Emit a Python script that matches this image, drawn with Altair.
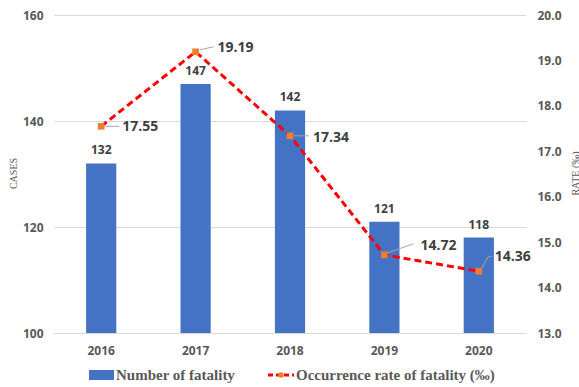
import altair as alt
import pandas as pd

years = ["2016", "2017", "2018", "2019", "2020"]
cases = [132, 147, 142, 121, 118]
rates = [17.55, 19.19, 17.34, 14.72, 14.36]

df = pd.DataFrame({"year": years, "cases": cases, "rate": rates})

W, H = 472, 318
LBL = "Open Sans"
SERIF = "Liberation Serif"
GRAY = "#595959"

x_enc = alt.X("year:N", scale=alt.Scale(paddingInner=0.68),
              axis=alt.Axis(title=None, labelFont=LBL, labelFontWeight="bold",
                            labelFontSize=12, labelColor=GRAY, labelAngle=0,
                            labelPadding=12, ticks=False, domainColor="#d9d9d9",
                            grid=False))

y_cases = alt.Y("cases:Q", scale=alt.Scale(domain=[100, 160], nice=False, zero=False),
                axis=alt.Axis(title="CASES", values=[100, 120, 140, 160], labelFont=LBL,
                              labelFontWeight="bold", labelFontSize=12, labelColor=GRAY,
                              labelPadding=11, ticks=False, domain=False,
                              gridColor="#d9d9d9", titleFont=SERIF, titleFontSize=10,
                              titleFontWeight="normal", titleColor=GRAY, titleAngle=270,
                              titleX=-41, titleY=158, titleAlign="center",
                              titleBaseline="middle"))

y_rate = alt.Y("rate:Q", scale=alt.Scale(domain=[13, 20], nice=False, zero=False),
               axis=alt.Axis(title="RATE (‰)", orient="right",
                             values=[13, 14, 15, 16, 17, 18, 19, 20], format=".1f",
                             labelFont=LBL, labelFontWeight="bold", labelFontSize=12,
                             labelColor=GRAY, labelPadding=11, ticks=False, domain=False,
                             grid=False, titleFont=SERIF, titleFontSize=10,
                             titleFontWeight="normal", titleColor=GRAY, titleAngle=270,
                             titleX=49, titleY=158, titleAlign="center",
                             titleBaseline="middle"))

base = alt.Chart(df)

bars = base.mark_bar(color="#4472c4", clip=True).encode(
    x=x_enc, y=y_cases, y2=alt.datum(100))
bar_text = base.mark_text(font=LBL, fontWeight="bold", fontSize=12, color="#404040",
                          baseline="bottom", dy=-6).encode(x=x_enc, y=y_cases,
                                                           text=alt.Text("cases:Q"))
bar_layer = alt.layer(bars, bar_text)

line = base.mark_line(color="#ff0000", strokeWidth=3, strokeDash=[7, 4]).encode(
    x=x_enc, y=y_rate)

# label layout per year: text dx, dy ; leader segments (xOff, yOff, x2Off, y2Off)
layout = {
    "2016": (21, 1, [(4, 0, 18, 0)]),
    "2017": (22, -4, [(4, -2, 18, -5)]),
    "2018": (23, 2, [(4, 0, 19, 0)]),
    "2019": (36, -9, [(3, -2, 29, -11)]),
    "2020": (16, -14, [(3, -3, 9, -14), (9, -14, 13, -15)]),
}

rate_layers = [line]
for yr, (dx, dy, segs) in layout.items():
    sub = base.transform_filter(alt.datum.year == yr)
    for (a, b, c, d) in segs:
        rate_layers.append(
            sub.mark_rule(color="#a6a6a6", strokeWidth=1, xOffset=a, yOffset=b,
                          x2Offset=c, y2Offset=d).encode(
                x=x_enc, x2="year:N", y=y_rate, y2="rate:Q"))
    rate_layers.append(
        sub.mark_text(font=LBL, fontWeight="bold", fontSize=14, color="#404040",
                      align="left", baseline="middle", dx=dx, dy=dy).encode(
            x=x_enc, y=y_rate, text=alt.Text("rate:Q", format=".2f")))

points = base.mark_point(shape="square", filled=True, color="#ed7d31", size=45,
                         opacity=1).encode(x=x_enc, y=y_rate)
rate_layers.append(points)
rate_layer = alt.layer(*rate_layers)

# legend
leg = alt.Chart(alt.Data(values=[{}]))
leg_rect = leg.mark_rect(color="#4472c4").encode(
    x=alt.value(35), x2=alt.value(60), y=alt.value(355), y2=alt.value(365))
leg_t1 = leg.mark_text(font=SERIF, fontWeight="bold", fontSize=15, color=GRAY,
                       align="left", baseline="middle").encode(
    x=alt.value(62), y=alt.value(360), text=alt.value("Number of fatality"))
leg_line = leg.mark_rule(color="#ff0000", strokeWidth=3, strokeDash=[5, 3]).encode(
    x=alt.value(214), x2=alt.value(240), y=alt.value(360))
leg_pt = leg.mark_point(shape="circle", filled=True, color="#ed7d31", size=30,
                        opacity=1).encode(x=alt.value(227), y=alt.value(360))
leg_t2 = leg.mark_text(font=SERIF, fontWeight="bold", fontSize=15, color=GRAY,
                       align="left", baseline="middle").encode(
    x=alt.value(242), y=alt.value(360),
    text=alt.value("Occurrence rate of fatality (‰)"))

chart = alt.layer(bar_layer, rate_layer, leg_rect, leg_t1, leg_line, leg_pt, leg_t2
                  ).resolve_scale(y="independent").properties(
    width=W, height=H,
    autosize=alt.AutoSizeParams(type="none"),
    padding={"left": 54, "top": 15, "right": 53, "bottom": 54},
    background="white",
).configure_view(strokeWidth=0, stroke="transparent")

chart.save("out.html", embed_options={"renderer": "svg", "actions": False})
